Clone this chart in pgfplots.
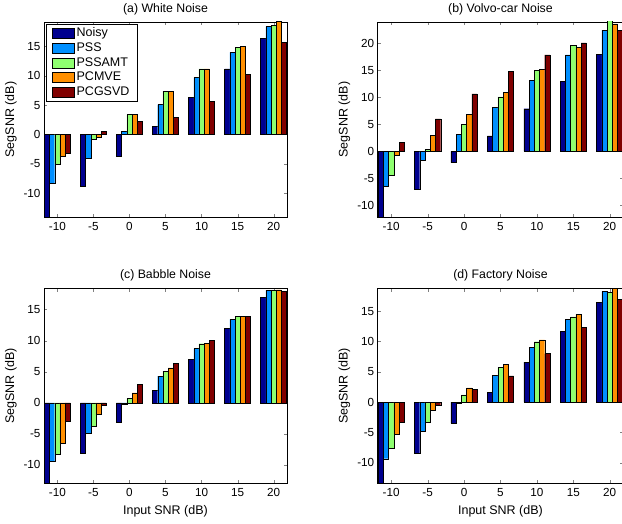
\documentclass[border=0pt]{standalone}
\usepackage{fontspec}
\setmainfont{Liberation Sans}
\usepackage{pgfplots}
\usepackage{pgfplotstable}
\pgfplotsset{compat=1.18}

\definecolor{cNoisy}{rgb}{0,0,0.56}
\definecolor{cPSS}{rgb}{0,0.56,1}
\definecolor{cAMT}{rgb}{0.56,1,0.44}
\definecolor{cMVE}{rgb}{1,0.56,0}
\definecolor{cGSVD}{rgb}{0.5,0,0}

% input SNR, then SegSNR of each method
\pgfplotstableread{
x   noisy  pss   amt   mve   gsvd
-10 -15.0  -8.3  -5.1  -3.8  -3.2
-5  -8.9   -4.0  -0.9  -0.5   0.56
0   -3.8    0.5   3.4   3.4   2.2
5    1.35   5.1   7.4   7.4   2.9
10   6.3    9.7  11.2  11.2   5.6
15  11.2   14.0  14.9  15.1  10.3
20  16.4   18.4  18.6  19.3  15.7
}\dataA
\pgfplotstableread{
x   noisy  pss   amt   mve   gsvd
-10 -13.0  -6.5  -4.5  -0.8   1.7
-5  -7.1   -1.7   0.3   3.0   6.0
0   -2.1    3.1   5.0   6.9  10.65
5    2.85   8.1  10.1  11.0  14.8
10   7.9   13.2  15.0  15.2  17.9
15  13.0   17.9  19.6  19.3  20.1
20  17.95  22.5  24.3  23.65 22.4
}\dataB
\pgfplotstableread{
x   noisy  pss   amt   mve   gsvd
-10 -14.0  -9.45 -8.3  -6.45 -2.9
-5  -8.05  -4.85 -3.75 -1.9  -0.45
0   -3.1   -0.27  0.7   1.6   2.95
5    2.05   4.3   5.1   5.6   6.35
10   7.0    8.7   9.5   9.6  10.0
15  11.95  13.4  13.85 13.95 13.9
20  17.0   18.1  18.05 18.15 17.9
}\dataC
\pgfplotstableread{
x   noisy  pss   amt   mve   gsvd
-10 -14.5  -9.35 -7.65 -5.35 -3.25
-5  -8.5   -4.85 -3.25 -1.3  -0.55
0   -3.5   -0.15  1.2   2.35  2.1
5    1.6    4.45  5.7   6.2   4.3
10   6.6    9.0   9.95 10.25  8.0
15  11.65  13.6  14.05 14.45 12.35
20  16.5   18.25 18.1  18.7  16.9
}\dataD

\pgfplotsset{
  panel/.style={
    scale only axis, width=243pt, height=195pt,
    xmin=-11.85, xmax=21.85,
    xtick={-10,-5,...,20}, ytick={-10,-5,...,25},
    tick align=inside, major tick length=3pt,
    axis line style={line width=0.6pt},
    ticklabel style={font=\fontsize{11.7}{13}\selectfont},
    xticklabel style={yshift=-2pt},
    /pgf/number format/assume math mode=true,
    title style={font=\fontsize{12.3}{14}\selectfont,
      at={(axis description cs:0.5,1)}, anchor=center, yshift=7pt},
    ylabel style={font=\fontsize{12.5}{14}\selectfont,
      at={(axis description cs:-0.136,0.5)}, anchor=center},
    xlabel style={font=\fontsize{12.5}{14}\selectfont,
      at={(axis description cs:0.5,0)}, anchor=center, yshift=-28pt},
    ylabel={SegSNR (dB)},
    every axis plot/.append style={ybar, bar width=0.72, draw=black, line width=0.4pt},
    legend image code/.code={\draw[#1] (0pt,-5pt) rectangle (22pt,5pt);},
  },
  s1/.style={fill=cNoisy, bar shift=-1.44},
  s2/.style={fill=cPSS, bar shift=-0.72},
  s3/.style={fill=cAMT, bar shift=0},
  s4/.style={fill=cMVE, bar shift=0.72},
  s5/.style={fill=cGSVD, bar shift=1.44},
}

\begin{document}
\begin{tikzpicture}
\begin{axis}[panel, at={(44pt,307pt)}, anchor=south west,
  ymin=-14.1, ymax=19.2, title={(a) White Noise},
  legend style={at={(axis description cs:0.008,0.99)}, anchor=north west,
    draw=black, line width=0.6pt, font=\fontsize{12.5}{14}\selectfont, row sep=0pt,
    inner xsep=6pt, inner ysep=2pt,
    nodes={inner xsep=2pt, inner ysep=1.1pt, text height=9.5pt, text depth=3pt,
      font=\fontsize{12.5}{14}\selectfont},
    /tikz/every even column/.append style={column sep=5pt}},
  legend cell align=left]
\addplot[s1] table[y=noisy]{\dataA};
\addplot[s2] table[y=pss]{\dataA};
\addplot[s3] table[y=amt]{\dataA};
\addplot[s4] table[y=mve]{\dataA};
\addplot[s5] table[y=gsvd]{\dataA};
\legend{Noisy,PSS,PSSAMT,PCMVE,PCGSVD}
\end{axis}
\begin{axis}[panel, at={(377.7pt,307pt)}, anchor=south west, width=245.5pt,
  ymin=-12.2, ymax=24.0, title={(b) Volvo-car Noise}]
\addplot[s1] table[y=noisy]{\dataB};
\addplot[s2] table[y=pss]{\dataB};
\addplot[s3] table[y=amt]{\dataB};
\addplot[s4] table[y=mve]{\dataB};
\addplot[s5] table[y=gsvd]{\dataB};
\end{axis}
\begin{axis}[panel, at={(44pt,41pt)}, anchor=south west, height=194.3pt,
  ymin=-12.9, ymax=18.35, title={(c) Babble Noise}, xlabel={Input SNR (dB)}]
\addplot[s1] table[y=noisy]{\dataC};
\addplot[s2] table[y=pss]{\dataC};
\addplot[s3] table[y=amt]{\dataC};
\addplot[s4] table[y=mve]{\dataC};
\addplot[s5] table[y=gsvd]{\dataC};
\end{axis}
\begin{axis}[panel, at={(377.7pt,41pt)}, anchor=south west, width=245.5pt, height=194.3pt,
  ymin=-13.35, ymax=18.7, title={(d) Factory Noise}, xlabel={Input SNR (dB)}]
\addplot[s1] table[y=noisy]{\dataD};
\addplot[s2] table[y=pss]{\dataD};
\addplot[s3] table[y=amt]{\dataD};
\addplot[s4] table[y=mve]{\dataD};
\addplot[s5] table[y=gsvd]{\dataD};
\end{axis}
\pgfresetboundingbox
\useasboundingbox (0pt,0pt) rectangle (622pt,524pt);
\end{tikzpicture}
\end{document}
